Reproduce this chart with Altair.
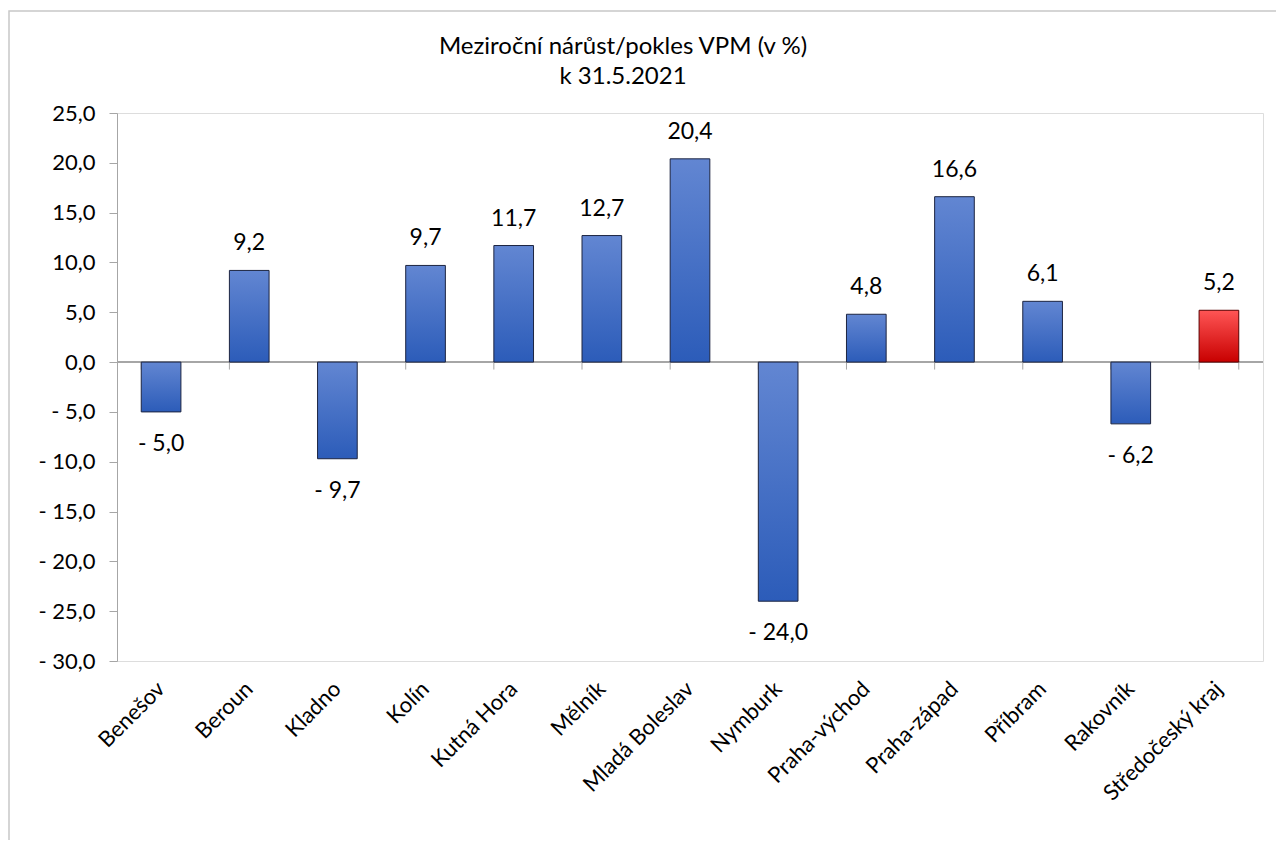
import altair as alt
import pandas as pd

categories = ["Benešov", "Beroun", "Kladno", "Kolín", "Kutná Hora", "Mělník",
              "Mladá Boleslav", "Nymburk", "Praha-východ", "Praha-západ",
              "Příbram", "Rakovník", "Středočeský kraj"]
values = [-5.0, 9.2, -9.7, 9.7, 11.7, 12.7, 20.4, -24.0, 4.8, 16.6, 6.1, -6.2, 5.2]
highlight = [False] * 12 + [True]
title_lines = ["Meziroční nárůst/pokles VPM (v %)", "k 31.5.2021"]
y_ticks = [-30, -25, -20, -15, -10, -5, 0, 5, 10, 15, 20, 25]

FONT = "Lato"
FS = 22
W, H = 1146, 548

df = pd.DataFrame({"cat": categories, "val": values, "hl": highlight})

fmt_expr = "(datum.val < 0 ? '- ' : '') + replace(format(abs(datum.val), '.1f'), '.', ',')"

x_enc = alt.X("cat:N", sort=categories,
              scale=alt.Scale(paddingInner=0.55, paddingOuter=0.275),
              axis=alt.Axis(title=None, orient="bottom", domain=False, ticks=False,
                            labelAngle=-45, labelFontSize=FS, labelFont=FONT,
                            labelColor="#000000", labelPadding=24))
y_scale = alt.Scale(domain=[-30, 25], nice=False, zero=False)
y_enc = alt.Y("val:Q", scale=y_scale,
              axis=alt.Axis(title=None, values=y_ticks, grid=False,
                            domainColor="#a6a6a6", tickColor="#a6a6a6", tickSize=8,
                            labelFontSize=FS, labelFont=FONT, labelColor="#000000",
                            labelPadding=14,
                            labelExpr="(datum.value < 0 ? '- ' : '') + replace(format(abs(datum.value), '.1f'), '.', ',')"))

base = alt.Chart(df)

blue_grad = alt.Gradient(gradient="linear", x1=0, y1=0, x2=0, y2=1,
                         stops=[alt.GradientStop(color="#6286d2", offset=0),
                                alt.GradientStop(color="#2c5cb9", offset=1)])
red_grad = alt.Gradient(gradient="linear", x1=0, y1=0, x2=0, y2=1,
                        stops=[alt.GradientStop(color="#ff5555", offset=0),
                               alt.GradientStop(color="#c80000", offset=1)])

bars_blue = base.transform_filter("!datum.hl").mark_bar(
    color=blue_grad, stroke="#1c2440", strokeWidth=1
).encode(x=x_enc, y=y_enc, y2=alt.datum(0))

bars_red = base.transform_filter("datum.hl").mark_bar(
    color=red_grad, stroke="#5a0000", strokeWidth=1
).encode(x=x_enc, y=y_enc, y2=alt.datum(0))

zero_line = base.mark_rule(color="#a6a6a6", strokeWidth=1.5).encode(
    y=alt.datum(0, scale=y_scale), x=alt.value(0), x2=alt.value(W))

ticks = base.mark_rule(color="#a6a6a6", strokeWidth=1).encode(
    x=alt.X("cat:N", sort=categories, bandPosition=0),
    y=alt.datum(0), y2=alt.datum(-0.75))
end_tick = base.transform_filter("datum.hl").mark_rule(color="#a6a6a6", strokeWidth=1).encode(
    x=alt.X("cat:N", sort=categories, bandPosition=1),
    y=alt.datum(0), y2=alt.datum(-0.75))

labels_pos = base.transform_filter("datum.val >= 0").transform_calculate(
    lbl=fmt_expr).mark_text(fontSize=FS + 1, font=FONT, color="#000000",
                            baseline="middle", dy=-27).encode(
    x=alt.X("cat:N", sort=categories), y=alt.Y("val:Q", scale=y_scale), text="lbl:N")
labels_neg = base.transform_filter("datum.val < 0").transform_calculate(
    lbl=fmt_expr).mark_text(fontSize=FS + 1, font=FONT, color="#000000",
                            baseline="middle", dy=32).encode(
    x=alt.X("cat:N", sort=categories), y=alt.Y("val:Q", scale=y_scale), text="lbl:N")

frame_df = pd.DataFrame({"k": [0]})
outer = alt.Chart(frame_df).mark_rect(fill=None, stroke="#c8c8c8", strokeWidth=1.5,
                                      clip=False).encode(
    x=alt.value(-108), x2=alt.value(1400), y=alt.value(-102), y2=alt.value(900))

title_mark = alt.Chart(frame_df).mark_text(
    font=FONT, fontSize=24, color="#000000", align="center", baseline="middle",
    lineHeight=30
).encode(x=alt.value(623 - 117), y=alt.value(47 - 113), text=alt.value(title_lines))

chart = alt.layer(
    outer, zero_line, ticks, end_tick, bars_blue, bars_red, labels_pos, labels_neg, title_mark
).properties(
    width=W, height=H,
    autosize=alt.AutoSizeParams(type="none"),
    padding={"left": 109, "top": 105, "right": 13, "bottom": 179},
).configure_view(stroke="#d9d9d9", strokeWidth=1.5).configure(background="white")

chart.save("out.html", embed_options={"renderer": "svg", "actions": False})
